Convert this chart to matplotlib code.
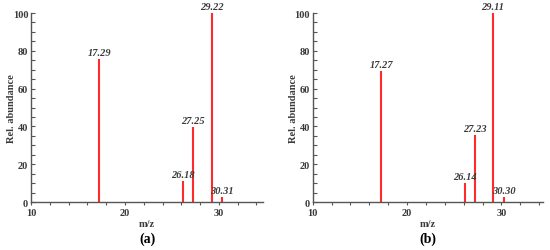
import numpy as np
import matplotlib
matplotlib.use('Agg')
import matplotlib.pyplot as plt
from matplotlib.ticker import MultipleLocator

plt.rcParams['font.family'] = ['Liberation Serif', 'DejaVu Serif']

# peak positions (m/z) and relative abundances
mz_a = [17.29, 26.18, 27.25, 29.22, 30.31]
ab_a = [75.7, 11.0, 39.8, 100.0, 2.4]

mz_b = [17.27, 26.14, 27.23, 29.11, 30.30]
ab_b = [69.4, 9.9, 35.3, 100.0, 2.5]

panel_names = ['a', 'b']

fig = plt.figure(figsize=(5.5, 2.51), dpi=100)
ax_a = fig.add_axes([0.0564, 0.1912, 0.4218, 0.7530])
ax_b = fig.add_axes([0.5685, 0.1912, 0.4188, 0.7530])

gray = '#555555'
txt = '#3a3a3a'
red = '#ff2a2a'

def draw_panel(ax, mz, ab, xmax, name):
    ax.vlines(mz, 0, ab, color=red, lw=1.5)
    for m, a in zip(mz, ab):
        ax.annotate(f'{m:.2f}', (m, a), xytext=(0, 1.5), textcoords='offset points',
                    ha='center', va='bottom', fontsize=7.5, fontweight='bold',
                    fontstyle='italic', color=txt)
    ax.set_xlim(10, xmax)
    ax.set_ylim(0, 100)
    for s in ['top', 'right']:
        ax.spines[s].set_visible(False)
    for s in ['left', 'bottom']:
        ax.spines[s].set_color(gray)
        ax.spines[s].set_linewidth(1.0)
    ax.xaxis.set_major_locator(MultipleLocator(10))
    ax.xaxis.set_minor_locator(MultipleLocator(2))
    ax.yaxis.set_major_locator(MultipleLocator(20))
    ax.yaxis.set_minor_locator(MultipleLocator(5))
    ax.tick_params(axis='y', which='both', direction='in', length=3, width=0.8,
                   color=gray, labelsize=7.5, labelcolor=txt, pad=2)
    ax.tick_params(axis='x', which='both', direction='out', length=2.5, width=0.8,
                   color=gray, labelsize=7.5, labelcolor=txt, pad=2)
    for lab in ax.get_xticklabels() + ax.get_yticklabels():
        lab.set_fontweight('bold')
    ax.set_xlabel('m/z', fontsize=7.5, fontweight='bold', color=txt, labelpad=1)
    ax.set_ylabel('Rel. abundance', fontsize=7.5, fontweight='bold', color=txt)
    ax.yaxis.set_label_coords(-0.065, 0.5)
    ax.text(0.5, -0.19, f'({name})', transform=ax.transAxes, ha='center', va='center',
            fontsize=10, fontweight='bold', color='black')

draw_panel(ax_a, mz_a, ab_a, 34.7, panel_names[0])
draw_panel(ax_b, mz_b, ab_b, 34.4, panel_names[1])

fig.savefig('out.png', dpi=100)
